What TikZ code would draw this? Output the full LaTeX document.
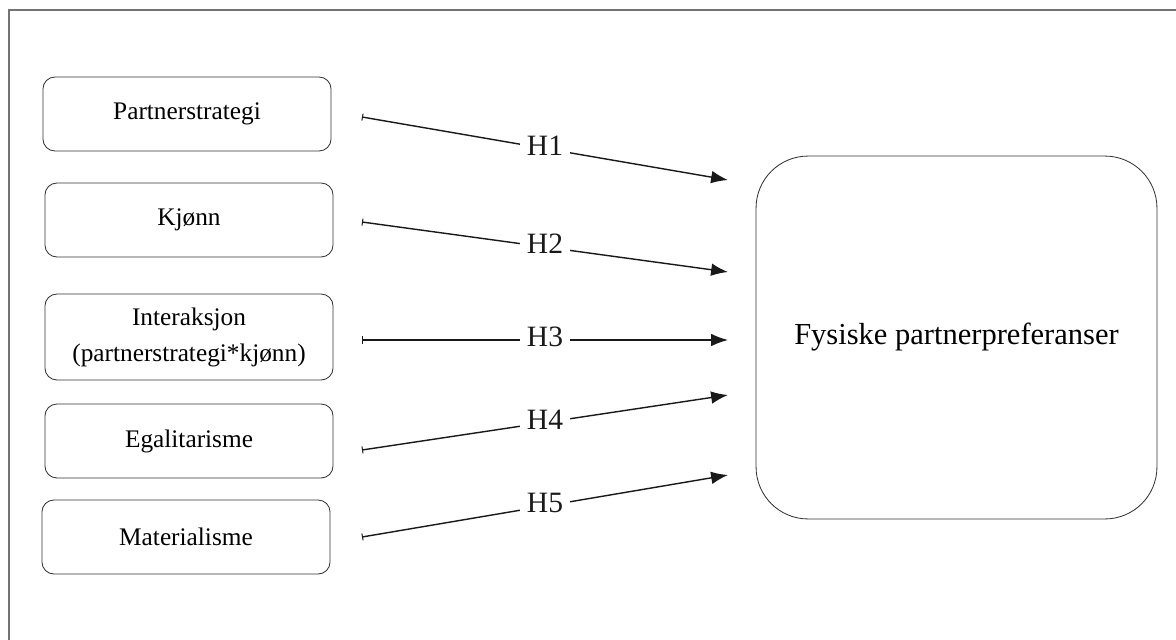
\documentclass[tikz,border=0pt]{standalone}
\usepackage{fontspec}
\setmainfont{Liberation Serif}
\usetikzlibrary{arrows.meta}

\begin{document}
\begin{tikzpicture}[x=0.025cm,y=-0.025cm]
            \tikzstyle{factor}=[draw=black!80,line width=0.6pt,rounded corners=0.3cm,minimum width=7.2cm,minimum height=1.85cm,align=center,font=\fontsize{18}{25.6}\selectfont,inner sep=0pt]
            \tikzstyle{hyp}=[fill=white,font=\fontsize{21}{26}\selectfont,inner sep=5pt]
            \useasboundingbox (0,0) rectangle (1176,639);
            \draw[black!55,line width=1.2pt] (9,680) -- (9,10) -- (1200,10);

            \foreach \num/\x/\y/\txt in {1/187/114/Partnerstrategi, 2/189/220/Kjønn, 4/189/441/Egalitarisme, 5/186/537/Materialisme}
                \node[factor] (F-\num) at (\x,\y) {\txt};
            \node[factor,minimum height=2.15cm] (F-3) at (189,337) {Interaksjon\\(partnerstrategi*kjønn)};

            \node[draw=black!80,line width=0.6pt,rounded corners=1.3cm,minimum width=10.02cm,minimum height=9.07cm,font=\fontsize{21.7}{26}\selectfont] (P) at (956.5,337.5) {Fysiske partnerpreferanser};

            \foreach \num/\ya/\yb in {1/117/180, 2/222/272, 3/340/340, 4/450/395, 5/537/475}
            {
                \coordinate (S-\num) at (362,\ya);
                \coordinate (T-\num) at (728,\yb);
                \draw[black!90,line width=1pt,{Bar[width=5pt,line width=0.7pt]}-{Latex[length=12pt,width=9pt]}] (S-\num) -- node[hyp,yshift=2pt] {H\num} (T-\num);
            }
        \end{tikzpicture}
\end{document}
